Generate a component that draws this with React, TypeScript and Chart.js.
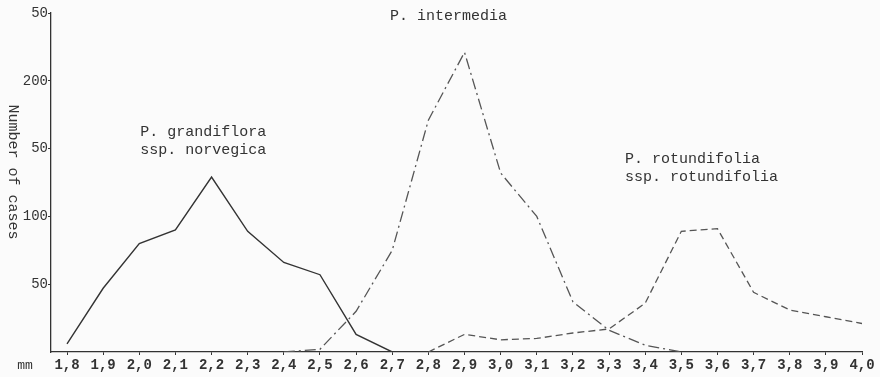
import React, { useEffect, useRef } from "react";
import { Chart, registerables } from "chart.js";

Chart.register(...registerables);

const categories = ["1,8","1,9","2,0","2,1","2,2","2,3","2,4","2,5","2,6","2,7","2,8","2,9","3,0","3,1","3,2","3,3","3,4","3,5","3,6","3,7","3,8","3,9","4,0"];

const grandiflora: (number | null)[] = [6, 47, 80, 90, 129, 89, 66, 57, 13, 0, null, null, null, null, null, null, null, null, null, null, null, null, null];
const intermedia: (number | null)[] = [null, null, null, null, null, null, 0, 2, 30, 75, 171, 221, 132, 100, 37, 16, 5, 0, null, null, null, null, null];
const rotundifolia: (number | null)[] = [null, null, null, null, null, null, null, null, null, null, 0, 13, 9, 10, 14, 17, 36, 89, 91, 44, 31, 26, 21];

const yTickValues = [50, 100, 150, 200, 250];
const yTickLabels = ["50", "100", "50", "200", "50"];

const annotations = [
  { lines: ["P. grandiflora", "ssp. norvegica"], x: "1,9", y: 162, align: "left" as CanvasTextAlign, dx: 37 },
  { lines: ["P. intermedia"], x: "2,9", y: 248, align: "center" as CanvasTextAlign, dx: -16 },
  { lines: ["P. rotundifolia", "ssp. rotundifolia"], x: "3,3", y: 142, align: "left" as CanvasTextAlign, dx: 16 },
];

const FONT = "'Liberation Mono', 'DejaVu Sans Mono', monospace";
const INK = "#333333";

const toNum = (s: string) => parseFloat(s.replace(",", "."));
const xValues = categories.map(toNum);

const mkData = (arr: (number | null)[]) =>
  arr.map((v, i) => ({ x: xValues[i], y: v })).filter((p) => p.y !== null) as { x: number; y: number }[];

const textPlugin = {
  id: "textPlugin",
  afterDraw(chart: any) {
    const ctx = chart.ctx as CanvasRenderingContext2D;
    const xs = chart.scales.x;
    const ys = chart.scales.y;
    ctx.save();
    ctx.fillStyle = INK;
    ctx.font = `15px ${FONT}`;
    ctx.textBaseline = "middle";
    for (const a of annotations) {
      const px = xs.getPixelForValue(toNum(a.x)) + a.dx;
      const py = ys.getPixelForValue(a.y);
      ctx.textAlign = a.align;
      a.lines.forEach((l, i) => ctx.fillText(l, px, py + i * 18));
    }
    // y title, reading top to bottom
    ctx.save();
    ctx.translate(13, 172);
    ctx.rotate(Math.PI / 2);
    ctx.textAlign = "center";
    ctx.font = `15px ${FONT}`;
    ctx.fillText("Number of cases", 0, 0);
    ctx.restore();
    // mm unit label
    ctx.textAlign = "center";
    ctx.font = `13px ${FONT}`;
    ctx.fillText("mm", 25, 366);
    ctx.restore();
  },
};

export default function App() {
  const ref = useRef<HTMLCanvasElement>(null);
  useEffect(() => {
    document.body.style.margin = "0";
    document.body.style.background = "#fbfbfb";
    const chart = new Chart(ref.current!, {
      type: "line",
      data: {
        datasets: [
          { label: "P. grandiflora ssp. norvegica", data: mkData(grandiflora), borderColor: "#333", borderWidth: 1.4, pointRadius: 0, tension: 0 },
          { label: "P. intermedia", data: mkData(intermedia), borderColor: "#555", borderWidth: 1.3, borderDash: [11, 4, 2, 4], pointRadius: 0, tension: 0 },
          { label: "P. rotundifolia ssp. rotundifolia", data: mkData(rotundifolia), borderColor: "#555", borderWidth: 1.3, borderDash: [7, 4], pointRadius: 0, tension: 0 },
        ],
      },
      plugins: [textPlugin],
      options: {
        responsive: false,
        animation: false,
        layout: { padding: { left: 0, right: 18, top: 13, bottom: 0 } },
        plugins: { legend: { display: false }, tooltip: { enabled: false } },
        scales: {
          x: {
            type: "linear",
            min: 1.7557,
            max: 4.0,
            afterBuildTicks: (s: any) => { s.ticks = xValues.map((v) => ({ value: v })); },
            afterFit: (s: any) => { s.height = 25; },
            ticks: {
              autoSkip: false,
              maxRotation: 0,
              padding: 2,
              color: INK,
              font: { family: FONT, size: 14, weight: "bold" },
              callback: (v: any) => {
                const i = xValues.findIndex((x) => Math.abs(x - v) < 1e-6);
                return i >= 0 ? categories[i] : "";
              },
            },
            grid: { drawOnChartArea: false, drawTicks: true, tickLength: 3, color: INK },
            border: { display: true, color: INK, width: 1.3 },
          },
          y: {
            min: 0,
            max: 250,
            afterBuildTicks: (s: any) => { s.ticks = yTickValues.map((v) => ({ value: v })); },
            afterFit: (s: any) => { s.width = 51; },
            ticks: {
              padding: 0,
              color: INK,
              font: { family: FONT, size: 14 },
              callback: (v: any) => {
                const i = yTickValues.indexOf(v);
                return i >= 0 ? yTickLabels[i] : "";
              },
            },
            grid: { drawOnChartArea: false, drawTicks: true, tickLength: 3, color: INK },
            border: { display: true, color: INK, width: 1.3 },
          },
        },
      },
    } as any);
    return () => chart.destroy();
  }, []);
  return <canvas ref={ref} width={880} height={377} style={{ display: "block" }} />;
}
